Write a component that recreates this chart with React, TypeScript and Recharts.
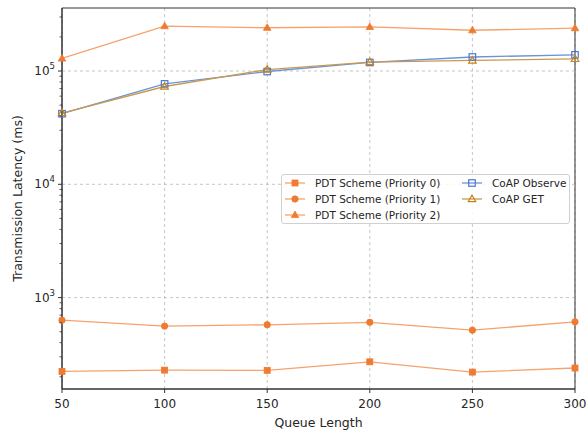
import React from "react";
import {
  LineChart,
  Line,
  XAxis,
  YAxis,
  CartesianGrid,
  ReferenceLine,
  ReferenceArea,
} from "recharts";

// queue lengths on the x axis
const queueLengths = [50, 100, 150, 200, 250, 300];

// transmission latency (ms) per scheme
const pdtPriority0 = [223, 229, 228, 271, 220, 239];
const pdtPriority1 = [632, 560, 575, 605, 516, 611];
const pdtPriority2 = [129000, 249000, 241000, 245000, 229000, 239000];
const coapObserve = [42000, 77000, 99000, 119000, 133000, 139000];
const coapGet = [42500, 73000, 103000, 120000, 124000, 128000];

// axis ticks
const xTicks = [50, 100, 150, 200, 250, 300];
const yTicks = [
  200, 300, 400, 500, 600, 700, 800, 900,
  1000, 2000, 3000, 4000, 5000, 6000, 7000, 8000, 9000,
  10000, 20000, 30000, 40000, 50000, 60000, 70000, 80000, 90000,
  100000, 200000, 300000,
];
const yDecades = [1000, 10000, 100000];
const yDomain = [156, 360000];

const FONT = "'DejaVu Sans', sans-serif";
const TEXT = "#262626";
const AXIS = "#333333";
const ORANGE = "#F07A30";
const ORANGE_LINE = "#F5A26E";

type Shape = "square" | "circle" | "triangle";

const series: {
  key: string;
  name: string;
  color: string;
  lineColor: string;
  shape: Shape;
  hollow: boolean;
}[] = [
  { key: "p0", name: "PDT Scheme (Priority 0)", color: ORANGE, lineColor: ORANGE_LINE, shape: "square", hollow: false },
  { key: "p1", name: "PDT Scheme (Priority 1)", color: ORANGE, lineColor: ORANGE_LINE, shape: "circle", hollow: false },
  { key: "p2", name: "PDT Scheme (Priority 2)", color: ORANGE, lineColor: ORANGE_LINE, shape: "triangle", hollow: false },
  { key: "observe", name: "CoAP Observe", color: "#4A78D0", lineColor: "#6B93DC", shape: "square", hollow: true },
  { key: "get", name: "CoAP GET", color: "#C4841C", lineColor: "#C99A4E", shape: "triangle", hollow: true },
];

const data = queueLengths.map((q, i) => ({
  q,
  p0: pdtPriority0[i],
  p1: pdtPriority1[i],
  p2: pdtPriority2[i],
  observe: coapObserve[i],
  get: coapGet[i],
}));

function Marker({ cx, cy, shape, color, hollow }: { cx: number; cy: number; shape: Shape; color: string; hollow: boolean }) {
  const fill = hollow ? "none" : color;
  const sw = hollow ? 1.2 : 0.8;
  if (shape === "square") {
    const s = hollow ? 6.5 : 6;
    return <rect x={cx - s / 2} y={cy - s / 2} width={s} height={s} fill={fill} stroke={color} strokeWidth={sw} />;
  }
  if (shape === "circle") {
    return <circle cx={cx} cy={cy} r={3.2} fill={fill} stroke={color} strokeWidth={sw} />;
  }
  const h = 6.5;
  const w = 7.5;
  const pts = `${cx},${cy - h * 0.6} ${cx - w / 2},${cy + h * 0.4} ${cx + w / 2},${cy + h * 0.4}`;
  return <polygon points={pts} fill={fill} stroke={color} strokeWidth={sw} strokeLinejoin="miter" />;
}

function YTick({ x, y, payload }: any) {
  const v = payload.value as number;
  const exp = Math.log10(v);
  const major = Math.abs(exp - Math.round(exp)) < 1e-9;
  return (
    <g>
      <line x1={x} x2={x - (major ? 4 : 2.5)} y1={y} y2={y} stroke={AXIS} strokeWidth={major ? 1 : 0.8} />
      {major && (
        <text x={x - 7} y={y} textAnchor="end" dominantBaseline="central" fontFamily={FONT} fontSize={12} fill={TEXT}>
          10
          <tspan dy={-5} fontSize={8.5}>{Math.round(exp)}</tspan>
        </text>
      )}
    </g>
  );
}

function YLabel({ viewBox }: any) {
  const cx = viewBox.x + 5.5;
  const cy = viewBox.y + viewBox.height / 2;
  return (
    <text
      x={cx}
      y={cy}
      transform={`rotate(-90 ${cx} ${cy})`}
      textAnchor="middle"
      dominantBaseline="central"
      fontFamily={FONT}
      fontSize={12.5}
      fill={TEXT}
    >
      Transmission Latency (ms)
    </text>
  );
}

function XLabel({ viewBox }: any) {
  return (
    <text
      x={viewBox.x + viewBox.width / 2}
      y={viewBox.y + viewBox.height - 5}
      textAnchor="middle"
      fontFamily={FONT}
      fontSize={12.5}
      fill={TEXT}
    >
      Queue Length
    </text>
  );
}

function LegendItem({ s }: { s: (typeof series)[number] }) {
  return (
    <div style={{ display: "flex", alignItems: "center", height: 16, whiteSpace: "nowrap" }}>
      <svg width={20} height={10} style={{ marginRight: 10, overflow: "visible" }}>
        <line x1={0} x2={20} y1={5} y2={5} stroke={s.lineColor} strokeWidth={1.3} />
        <Marker cx={10} cy={5} shape={s.shape} color={s.color} hollow={s.hollow} />
      </svg>
      <span>{s.name}</span>
    </div>
  );
}

function ChartLegend() {
  return (
    <div
      style={{
        position: "absolute",
        left: 281,
        top: 174,
        width: 289,
        height: 50,
        boxSizing: "border-box",
        border: "1px solid #d0d0d0",
        borderRadius: 3,
        background: "rgba(255,255,255,0.85)",
        display: "flex",
        fontFamily: FONT,
        fontSize: 10.5,
        color: TEXT,
        lineHeight: "16px",
      }}
    >
      <div style={{ width: 177, paddingLeft: 3 }}>
        {series.slice(0, 3).map((s) => (
          <LegendItem key={s.key} s={s} />
        ))}
      </div>
      <div>
        {series.slice(3).map((s) => (
          <LegendItem key={s.key} s={s} />
        ))}
      </div>
    </div>
  );
}

export default function App() {
  return (
    <div style={{ position: "absolute", left: 0, top: 0, width: 587, height: 432, background: "#fff" }}>
      <LineChart width={587} height={432} data={data} margin={{ top: 8, right: 12, left: 12, bottom: 0 }}>
        <CartesianGrid horizontal={false} stroke="#b8b8b8" strokeDasharray="3 3" strokeWidth={0.8} />
        {yDecades.map((v) => (
          <ReferenceLine key={v} y={v} stroke="#b8b8b8" strokeDasharray="3 3" strokeWidth={0.8} />
        ))}
        <XAxis
          dataKey="q"
          type="number"
          domain={[50, 300]}
          ticks={xTicks}
          interval={0}
          height={43}
          tickSize={4}
          tickMargin={6}
          stroke={AXIS}
          tick={{ fill: TEXT, fontSize: 12, fontFamily: FONT }}
          label={{ content: XLabel }}
        />
        <YAxis
          type="number"
          scale="log"
          domain={yDomain}
          allowDataOverflow
          ticks={yTicks}
          interval={0}
          width={50}
          tickSize={0}
          tickMargin={0}
          tickLine={false}
          stroke={AXIS}
          tick={<YTick />}
          label={{ content: YLabel }}
        />
        <ReferenceArea
          x1={50}
          x2={300}
          y1={yDomain[0]}
          y2={yDomain[1]}
          fill="none"
          stroke={AXIS}
          strokeWidth={1}
          ifOverflow="visible"
        />
        {series.map((s) => (
          <Line
            key={s.key}
            dataKey={s.key}
            name={s.name}
            stroke={s.lineColor}
            strokeWidth={1.3}
            isAnimationActive={false}
            dot={(p: any) => (
              <Marker key={`${s.key}-${p.index}`} cx={p.cx} cy={p.cy} shape={s.shape} color={s.color} hollow={s.hollow} />
            )}
            activeDot={false}
          />
        ))}
      </LineChart>
      <ChartLegend />
    </div>
  );
}
